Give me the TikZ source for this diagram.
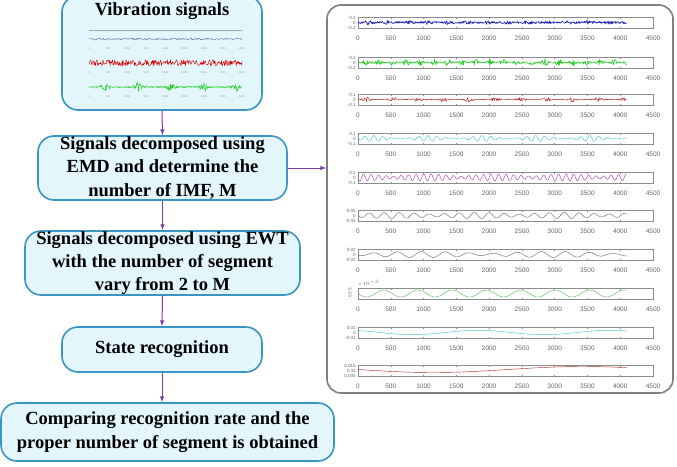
\documentclass[tikz,border=0pt]{standalone}
\usepackage{fontspec}
\setmainfont{Liberation Serif}
\newfontfamily\plotfont{Liberation Sans}
\definecolor{boxfill}{HTML}{E2F6FB}
\definecolor{boxline}{HTML}{3B95C2}
\definecolor{arrowpurple}{HTML}{7A3E9D}
\definecolor{panelline}{HTML}{7F7F7F}
\definecolor{sigblue}{HTML}{1A1AB8}
\definecolor{siggreen}{HTML}{22CC22}
\definecolor{sigred}{HTML}{B02828}
\definecolor{sigcyan}{HTML}{45C4CC}
\definecolor{sigmagenta}{HTML}{B040B8}
\definecolor{siggray}{HTML}{707070}
\definecolor{siglgreen}{HTML}{5CBF5C}
\tikzset{
  flowbox/.style={draw=boxline, fill=boxfill, line width=1.6pt, rounded corners=16pt, inner sep=0pt, align=center, font=\fontsize{18.5}{23.3}\selectfont\bfseries},
  flowtext/.style={inner sep=0pt, align=center, font=\fontsize{18.5}{23.3}\selectfont\bfseries},
  flowarrow/.style={-latex, draw=arrowpurple, line width=1pt},
  panelbox/.style={draw=panelline, line width=1.6pt, rounded corners=14pt, inner sep=0pt},
  axisframe/.style={draw=black!45, line width=0.4pt},
  ticklab/.style={font=\plotfont\fontsize{6.5}{7}\selectfont, text=black!60, inner sep=0pt},
  ylab/.style={font=\plotfont\fontsize{4.6}{5}\selectfont, text=black!60, inner sep=0pt, anchor=east},
  minilab/.style={font=\plotfont\fontsize{2.6}{3}\selectfont, text=black!40, inner sep=0pt},
  sig/.style={line width=0.45pt, line join=round}
}

\begin{document}
\begin{tikzpicture}[x=1pt, y=-1pt]
\useasboundingbox (0,0) rectangle (677,466);
\pgfmathsetseed{11}

\node[flowbox, minimum width=200pt, minimum height=114pt] (vib) at (162,53) {};
\node[flowtext] (vibtitle) at (162,11) {Vibration signals};
\node[flowbox, minimum width=249pt, minimum height=64pt] (emd) at (162.5,168) {Signals decomposed using\\EMD and determine the\\number of IMF, M};
\node[flowbox, minimum width=275pt, minimum height=64pt] (ewt) at (162.5,263) {Signals decomposed using EWT\\with the number of segment\\vary from 2 to M};
\node[flowbox, minimum width=200pt, minimum height=45pt] (state) at (162,349.5) {State recognition};
\node[flowbox, minimum width=333pt, minimum height=58pt] (cmp) at (167.5,432) {Comparing recognition rate and the\\proper number of segment is obtained};

\draw[black!35, line width=0.5pt] (89,30) -- (242,30);
\begin{scope}[shift={(89,39)}]
  \draw[sig, draw=blue!30!black!70, line width=0.3pt] plot[domain=0:153, samples=200] (\x,{0.8*rand});
\end{scope}
\begin{scope}[shift={(89,63)}]
  \draw[sig, draw=red!85!black, line width=0.4pt] plot[domain=0:153, samples=320] (\x,{3.2*rand});
\end{scope}
\begin{scope}[shift={(89,87)}]
  \draw[sig, draw=siggreen, line width=0.4pt] plot[domain=0:153, samples=320] (\x,{rand*(0.8+4*abs(sin(\x*5.5))^12)});
\end{scope}
\foreach \row [count=\r] in {49,73,97} {
  \foreach \i in {0,...,8} {
    \pgfmathtruncatemacro\lab{\i*500}
    \node[minilab] (mini-\r-\i) at (89+\i*19.1,\row) {\lab};
  }
}

\node[panelbox, minimum width=346pt, minimum height=388pt] (imfs) at (500,199) {};

\draw[flowarrow] (vib.south) -- (emd.north);
\draw[flowarrow] (emd.south) -- (ewt.north);
\draw[flowarrow] (ewt.south) -- (state.north);
\draw[flowarrow] (state.south) -- (state.south |- cmp.north);
\draw[flowarrow] (emd.east) -- (emd.east -| imfs.west);

\foreach \yc/\ytop/\ymid/\ybot [count=\k] in {22.5/0.2/0/-0.2, 62.5/0.2/0/-0.2, 99.5/0.1/0/-0.1, 138.5/0.1/0/-0.1, 177.5/0.1/0/-0.1, 215.5/0.05/0/-0.05, 254.5/0.02/0/-0.02, 293.5/{}/{}/{}, 332.5/0.01/0/-0.01, 370.5/0.015/0.01/0.005} {
  \draw[axisframe] (358,\yc-5.5) rectangle (653,\yc+5.5);
  \foreach \i in {0,...,9} {
    \pgfmathtruncatemacro\lab{\i*500}
    \draw[axisframe] (358+\i*32.78,\yc-5.5) -- ++(0,1.5) (358+\i*32.78,\yc+5.5) -- ++(0,-1.5);
    \node[ticklab] (xt-\k-\i) at (358+\i*32.78,\yc+15.5) {\lab};
  }
  \node[ylab] (yt-\k-a) at (356,\yc-5) {\ytop};
  \node[ylab] (yt-\k-b) at (356,\yc) {\ymid};
  \node[ylab] (yt-\k-c) at (356,\yc+5) {\ybot};
}
\node[ylab, anchor=south west] (sci) at (357,287) {$\times10^{-3}$};
\node[ylab, anchor=center, rotate=90] (sciticks) at (350,293.5) {-5 0 5};

\begin{scope}[shift={(358,22.5)}]
  \draw[sig, draw=sigblue, line width=0.6pt] plot[domain=0:268.5, samples=500] (\x,{1.8*rand*(0.6+0.6*abs(sin(\x*9))^6)});
\end{scope}
\begin{scope}[shift={(358,62.5)}]
  \draw[sig, draw=siggreen, line width=0.55pt] plot[domain=0:268.5, samples=500] (\x,{rand*(0.8+2.8*abs(sin(\x*13))^4)});
\end{scope}
\begin{scope}[shift={(358,99.5)}]
  \draw[sig, draw=sigred] plot[domain=0:268.5, samples=450] (\x,{rand*(0.4+2.4*abs(sin(\x*7+30))^8)});
\end{scope}
\begin{scope}[shift={(358,138.5)}]
  \draw[sig, draw=sigcyan] plot[domain=0:268.5, samples=500] (\x,{3*sin(\x*40)*(0.15+0.85*abs(sin(\x*3.3+40))^3)});
\end{scope}
\begin{scope}[shift={(358,177.5)}]
  \draw[sig, draw=sigmagenta] plot[domain=0:268.5, samples=500] (\x,{3.5*sin(\x*48)*(0.35+0.65*abs(cos(\x*2.6)))});
\end{scope}
\begin{scope}[shift={(358,215.5)}]
  \draw[sig, draw=siggray] plot[domain=0:268.5, samples=400] (\x,{3*sin(\x*24)*(0.4+0.6*abs(sin(\x*2.1+20)))});
\end{scope}
\begin{scope}[shift={(358,254.5)}]
  \draw[sig, draw=siggray] plot[domain=0:268.5, samples=300] (\x,{3*sin(\x*15+40)*(0.3+0.7*abs(sin(\x*1.4)))});
\end{scope}
\begin{scope}[shift={(358,293.5)}]
  \draw[sig, draw=siglgreen] plot[domain=0:268.5, samples=200] (\x,{3.5*sin(\x*10.5)});
\end{scope}
\begin{scope}[shift={(358,332.5)}]
  \draw[sig, draw=sigcyan] plot[domain=0:268.5, samples=150] (\x,{2.2*sin(\x*2.74-60)});
\end{scope}
\begin{scope}[shift={(358,370.5)}]
  \draw[sig, draw=sigred] plot[domain=0:268.5, samples=150] (\x,{-1+3*sin(\x*1.2)});
\end{scope}
\end{tikzpicture}
\end{document}
